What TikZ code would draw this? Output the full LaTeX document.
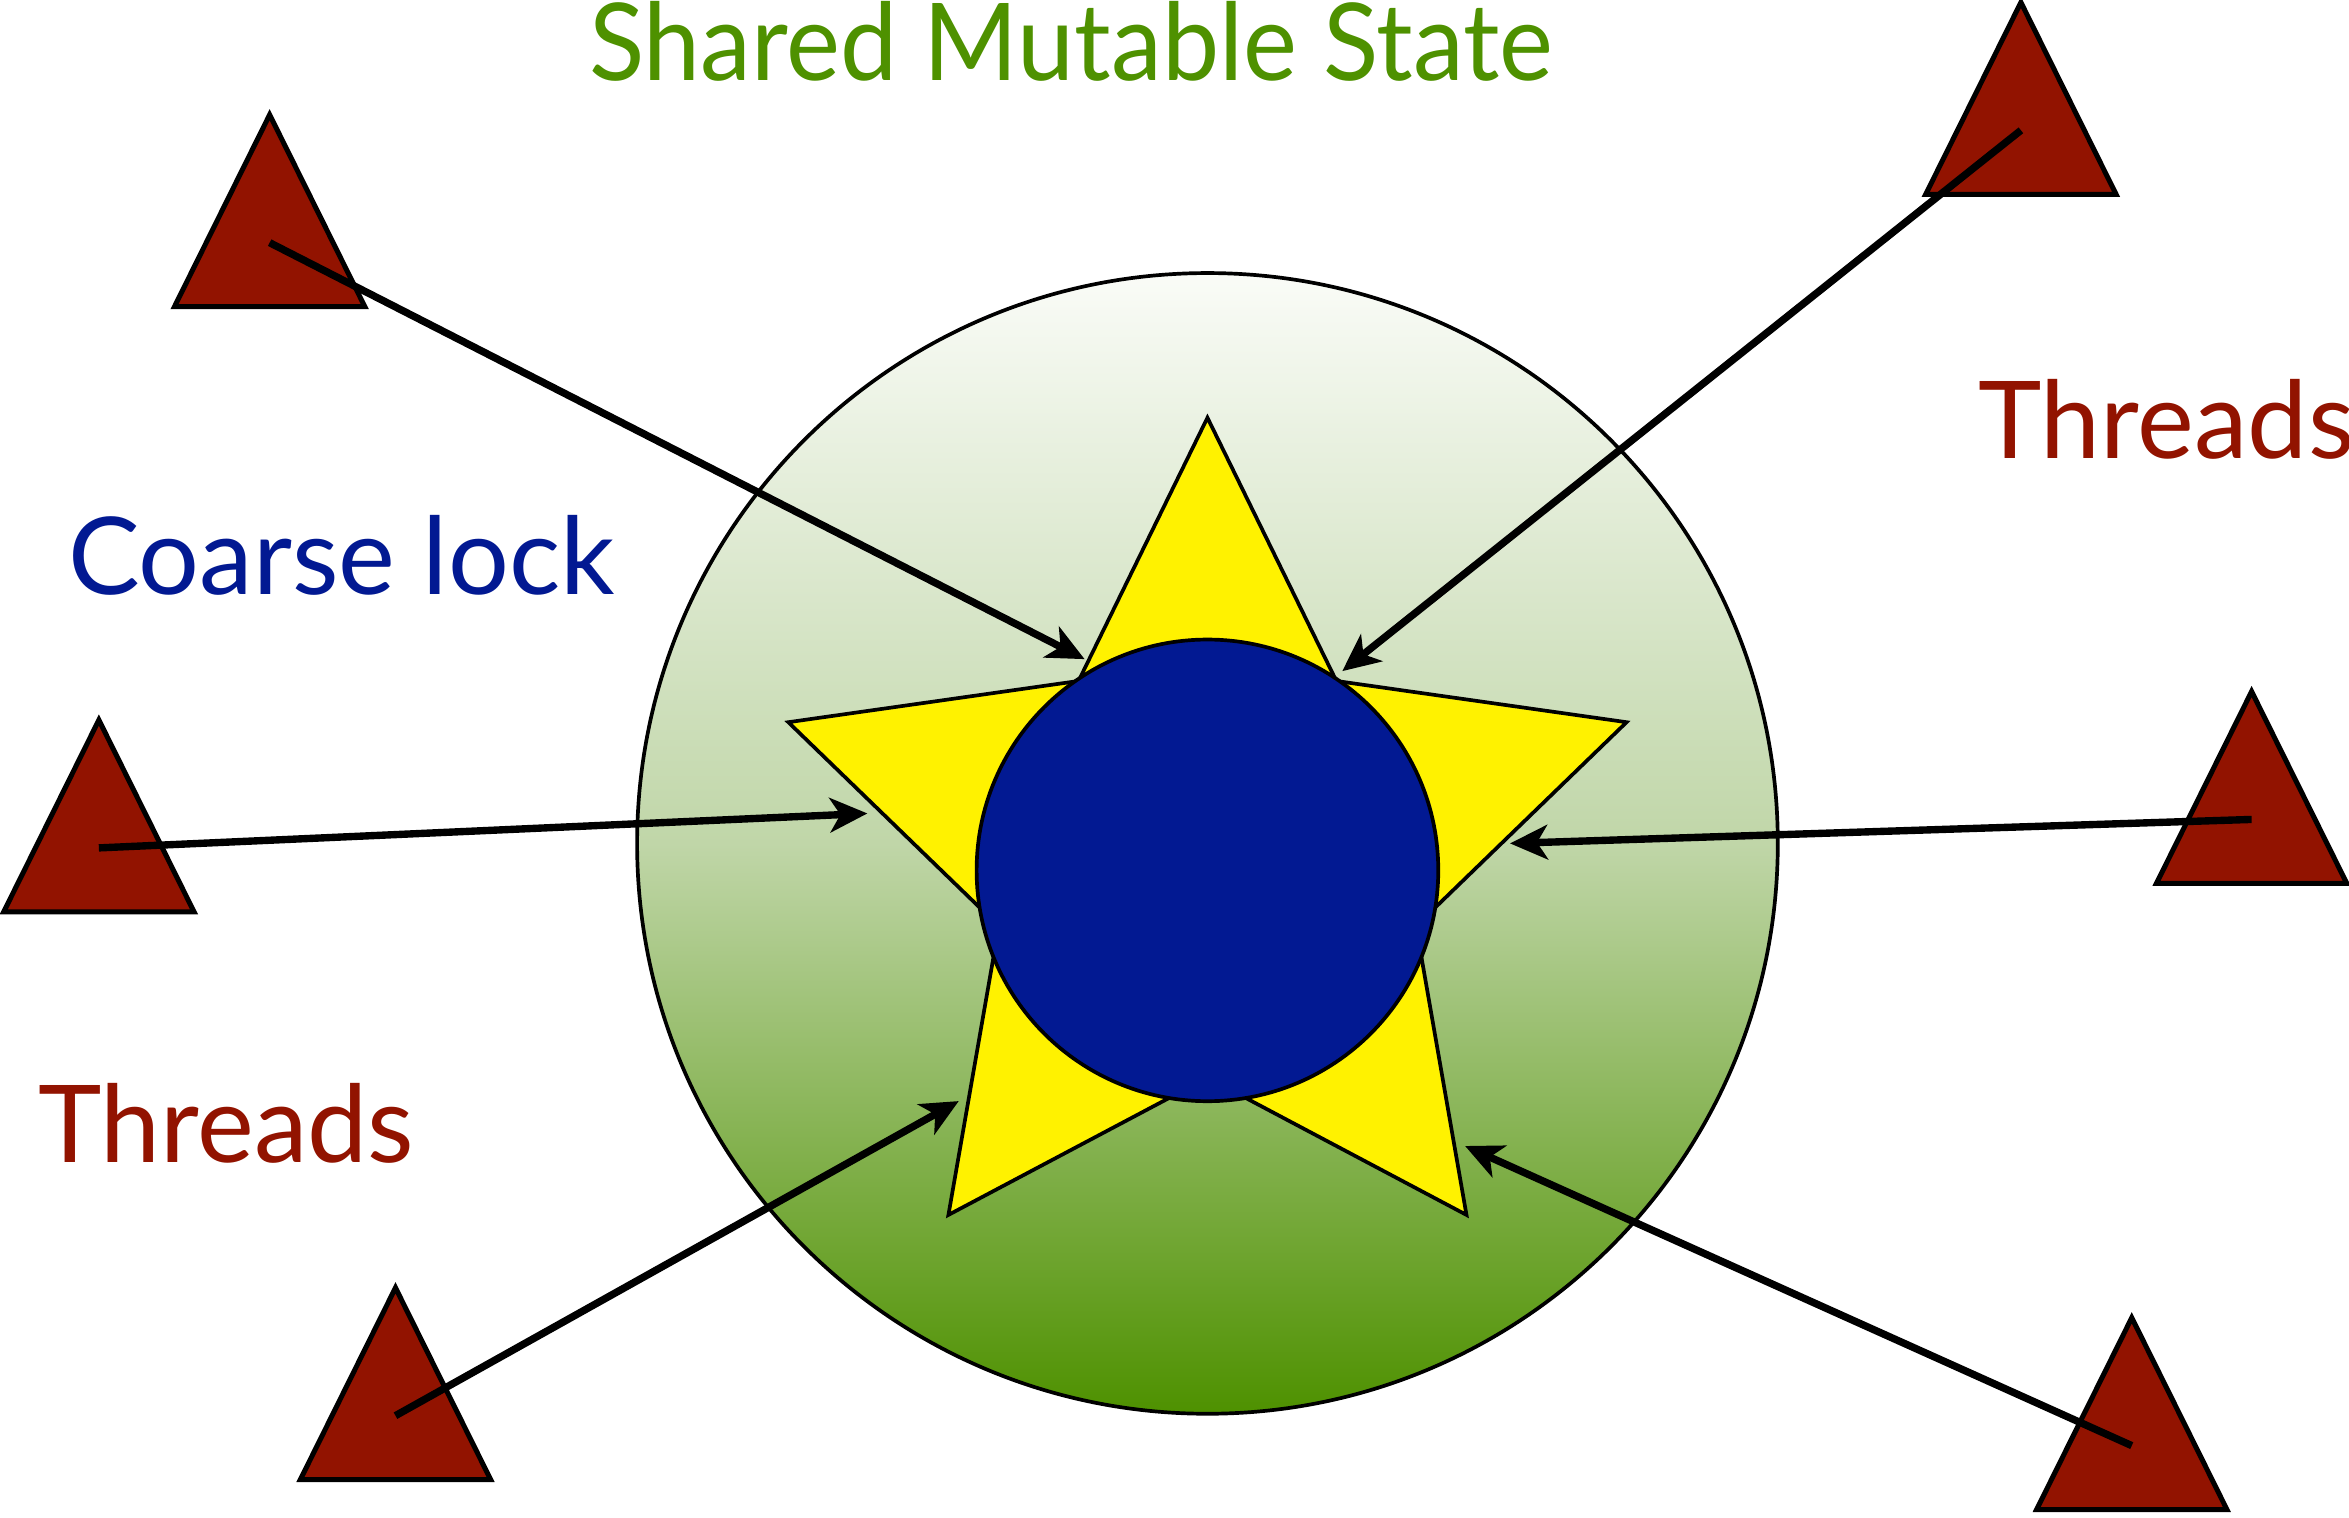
\documentclass[tikz,border=0pt]{standalone}
\usepackage{fontspec}
\setmainfont{Lato}
\usetikzlibrary{shapes.geometric,arrows.meta}
\definecolor{threadred}{RGB}{146,19,0}
\definecolor{lockblue}{RGB}{2,25,146}
\definecolor{stategreen}{RGB}{78,145,0}
\begin{document}
\begin{tikzpicture}[x=0.01cm,y=-0.01cm,
	thread/.style={regular polygon,regular polygon sides=3,minimum size=1.707cm,inner sep=0pt,xscale=0.859,draw,line width=0.95pt,fill=threadred},
	link/.style={line width=1.4pt,-{Stealth[length=0.25cm,width=0.23cm,inset=0.07cm]}},
	txt/.style={inner sep=0pt,anchor=base,font=\fontsize{20.4}{24}\selectfont}]
	\useasboundingbox (0,0) rectangle (1568,1013);
	% shared state
	\node[circle,minimum size=7.61cm,inner sep=0pt,draw,line width=0.7pt,top color=white!97!stategreen,bottom color=stategreen,middle color={rgb,255:red,192;green,214;blue,168}] (state) at (806,563) {};
	\node[star,star points=5,star point ratio=2.01,minimum size=5.88cm,inner sep=0pt,draw,line width=0.7pt,fill=yellow] (star) at (806,573) {};
	\node[circle,minimum size=3.08cm,inner sep=0pt,draw,line width=0.7pt,fill=lockblue] (lock) at (806,581) {};
	% threads
	\foreach \n/\x/\y in {1/180/162,2/1349/87,3/66/566,4/1503/547,5/264/945,6/1423/965}
		\node[thread] (t\n) at (\x,\y) {};
	\foreach \n/\x/\y in {1/724/440,2/896/448,3/579/543,4/1008/563,5/640/735,6/978/765}
		\coordinate (h\n) at (\x,\y);
	\foreach \n in {1,...,6}
		\draw[link] (t\n.center) -- (h\n);
	% labels
	\node[txt,text=stategreen,xscale=0.95] (title) at (715,54) {Shared Mutable State};
	\node[txt,text=lockblue] (coarse) at (228,397) {Coarse lock};
	\node[txt,text=threadred] (thl) at (151,776) {Threads};
	\node[txt,text=threadred] (thr) at (1446,306) {Threads};
\end{tikzpicture}
\end{document}
